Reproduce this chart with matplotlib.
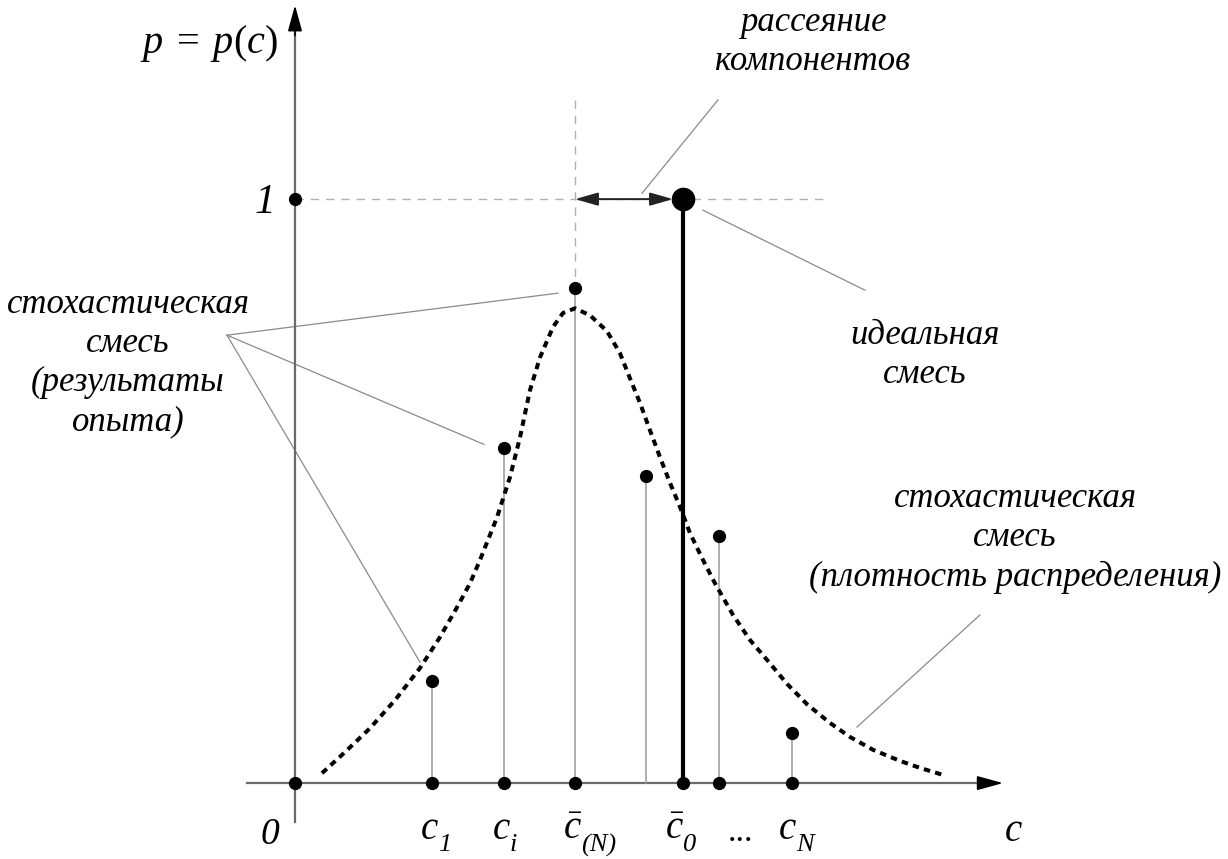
import matplotlib
matplotlib.use("Agg")
import matplotlib.pyplot as plt

# Общие настройки шрифтов: курсив с засечками, кириллица
plt.rcParams['font.family'] = ['Liberation Serif', 'DejaVu Serif']
plt.rcParams['mathtext.fontset'] = 'custom'
plt.rcParams['mathtext.rm'] = 'Liberation Serif'
plt.rcParams['mathtext.it'] = 'Liberation Serif:italic'
plt.rcParams['mathtext.default'] = 'it'

# Результаты опыта (концентрации c и вероятности p)
stem_c = [1.37, 2.09, 2.80, 3.51, 4.24, 4.97]
stem_p = [0.175, 0.574, 0.848, 0.526, 0.423, 0.086]

# Точки на оси c
axis_dots_c = [0.0, 1.37, 2.09, 2.80, 3.88, 4.24, 4.97]

# Идеальная смесь
c_ideal = 3.88
p_ideal = 1.0
c_mean = 2.80

curve_c = [0.27, 0.50, 0.75, 1.00, 1.25, 1.45, 1.62, 1.75, 1.85, 2.02,
           2.15, 2.25, 2.35, 2.45, 2.58, 2.68, 2.80, 2.95, 3.12, 3.25,
           3.35, 3.45, 3.55, 3.65, 3.75, 3.85, 3.95, 4.08, 4.20, 4.38,
           4.55, 4.72, 4.92, 5.12, 5.35, 5.55, 5.78, 6.05, 6.25, 6.48]
curve_p = [0.017, 0.053, 0.094, 0.142, 0.197, 0.250, 0.301, 0.342, 0.382, 0.455,
           0.524, 0.592, 0.673, 0.729, 0.781, 0.805, 0.813, 0.801, 0.774, 0.736,
           0.693, 0.651, 0.604, 0.558, 0.514, 0.473, 0.428, 0.382, 0.342, 0.288,
           0.245, 0.211, 0.170, 0.135, 0.103, 0.079, 0.057, 0.038, 0.026, 0.014]

# Подписи на оси c: основная буква и индекс
tick_c = [1.37, 2.09, 2.80, 3.82, 4.95]
tick_main = [r'$c$', r'$c$', r'$\bar{c}$', r'$\bar{c}$', r'$c$']
tick_sub = ['1', 'i', '(N)', '0', 'N']
dots_c = 4.45

fig = plt.figure(figsize=(12.28, 8.59), dpi=100)
ax = fig.add_axes([0, 0, 1, 1])
ax.set_xlim(-2.95, 9.33)
ax.set_ylim(-0.130, 1.341)
ax.axis('off')

axis_col = '#6a6a6a'
thin_col = '#9a9a9a'

# Оси со стрелками
ax.plot([-0.48, 7.0], [0, 0], color=axis_col, lw=1.6, zorder=2)
ax.plot([0, 0], [-0.067, 1.30], color=axis_col, lw=1.6, zorder=2)
head = dict(arrowstyle='-|>,head_length=0.8,head_width=0.22', color='black',
            lw=1.2, mutation_scale=20, shrinkA=0, shrinkB=0)
ax.annotate('', xy=(7.08, 0), xytext=(6.9, 0), arrowprops=head)
ax.annotate('', xy=(0, 1.332), xytext=(0, 1.28), arrowprops=head)

# Вспомогательные штриховые линии
ax.plot([0, 5.33], [1, 1], color='#b0b0b0', lw=1.0, ls=(0, (6, 5)), zorder=1)
ax.plot([c_mean, c_mean], [1.17, 0.848], color='#b0b0b0', lw=1.0, ls=(0, (6, 5)), zorder=1)

# Стебли результатов опыта
for c, p in zip(stem_c, stem_p):
    ax.plot([c, c], [0, p], color=thin_col, lw=1.1, zorder=2)
ax.plot(stem_c, stem_p, 'o', color='black', ms=8.5, zorder=4)
ax.plot(axis_dots_c, [0] * len(axis_dots_c), 'o', color='black', ms=8.5, zorder=4)
ax.plot([0], [p_ideal], 'o', color='black', ms=8.5, zorder=4)

# Идеальная смесь
ax.plot([c_ideal, c_ideal], [0, p_ideal], color='black', lw=3.0, zorder=3)
ax.plot([c_ideal], [p_ideal], 'o', color='black', ms=16, zorder=5)

# Рассеяние компонентов
ax.annotate('', xy=(c_mean, 1), xytext=(3.78, 1),
            arrowprops=dict(arrowstyle='<|-|>,head_length=0.7,head_width=0.2',
                            color='#222222', lw=1.4, mutation_scale=20,
                            shrinkA=0, shrinkB=0))

# Плотность распределения
ax.plot(curve_c, curve_p, color='black', lw=2.9, ls=(0, (1.6, 1.3)),
        dash_capstyle='butt', solid_joinstyle='round', zorder=3)

# Выноски
lead = dict(color='#8a8a8a', lw=0.9, zorder=1)
ax.plot([3.47, 4.23], [1.010, 1.170], **lead)
ax.plot([4.08, 5.70], [0.981, 0.844], **lead)
ax.plot([-0.68, 2.63], [0.767, 0.839], **lead)
ax.plot([-0.68, 1.89], [0.767, 0.580], **lead)
ax.plot([-0.68, 1.25], [0.767, 0.207], **lead)
ax.plot([5.62, 6.85], [0.096, 0.288], **lead)

# Надписи
txt = dict(fontsize=25, style='italic', ha='center', va='center', linespacing=1.25)
ax.text(5.18, 1.269, 'рассеяние\nкомпонентов', **txt)
ax.text(-1.67, 0.719, 'стохастическая\nсмесь\n(результаты\nопыта)', **txt)
ax.text(6.30, 0.733, 'идеальная\nсмесь', **txt)
ax.text(7.20, 0.420, 'стохастическая\nсмесь\n(плотность распределения)', **txt)

ax.text(-0.86, 1.267, r'$p\;=\;p(c)$', fontsize=29, ha='center', va='center')
ax.text(-0.30, 0.993, '1', fontsize=30, style='italic', ha='center', va='center')
ax.text(-0.25, -0.089, '0', fontsize=27, style='italic', ha='center', va='center')
ax.text(7.18, -0.083, r'$c$', fontsize=28, ha='center', va='center')

# Подписи значений c: буква, затем курсивный индекс
for c, main, sub in zip(tick_c, tick_main, tick_sub):
    ax.text(c - 0.12, -0.080, main, fontsize=28, ha='left', va='center')
    ax.text(c + 0.06, -0.106, sub, fontsize=19, style='italic', ha='left', va='center')
ax.text(dots_c, -0.085, '...', fontsize=24, ha='center', va='center')

fig.savefig('out.png', dpi=100, facecolor='white')
